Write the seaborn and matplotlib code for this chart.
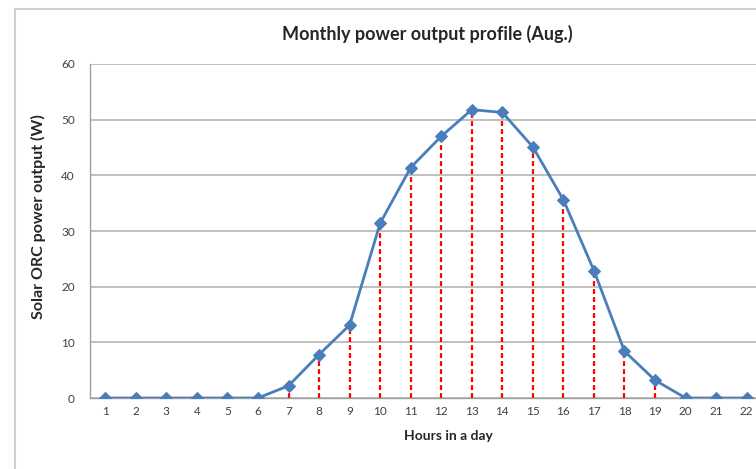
import numpy as np
import pandas as pd
import matplotlib
matplotlib.use("Agg")
import matplotlib.pyplot as plt
from matplotlib.lines import Line2D
import seaborn as sns

hours = list(range(1, 23))
power = [0, 0, 0, 0, 0, 0, 2.2, 7.8, 13.1, 31.4, 41.4, 47.0, 51.8, 51.3,
         45.1, 35.6, 22.9, 8.4, 3.2, 0, 0, 0]
y_ticks = [0, 10, 20, 30, 40, 50, 60]

df = pd.DataFrame({"hour": hours, "power": power})

sns.set_style("white")
plt.rcParams["font.family"] = ["Lato", "DejaVu Sans"]

fig = plt.figure(figsize=(7.56, 4.69), dpi=100)
ax = fig.add_axes([90 / 756, 71 / 469, 733 / 756, 334 / 469])

# red dashed drop lines (only where output > 0)
stems = df[df["power"] > 0]
ax.vlines(stems["hour"], 0, stems["power"], colors="#ff0000",
          linestyles=(0, (2.2, 1.4)), linewidth=1.6, zorder=2)

sns.lineplot(data=df, x="hour", y="power", ax=ax, color="#4a7ebb",
             linewidth=2, marker="D", markersize=6.5, markeredgecolor="#4a7ebb",
             zorder=3)

ax.set_xlim(0.5, 24.5)
ax.set_ylim(0, 60)
ax.set_yticks(y_ticks)
ax.set_xticks(hours)
ax.set_xticks(np.arange(0.5, 24.6, 1), minor=True)
ax.tick_params(axis="x", which="major", length=0, pad=6, labelsize=8.5, labelcolor="#404040")
ax.tick_params(axis="x", which="minor", length=4, color="#a0a0a0", direction="out")
ax.tick_params(axis="y", length=5, color="#a0a0a0", direction="out", pad=6,
               labelsize=8.5, labelcolor="#404040")
ax.yaxis.grid(True, color="#b4b4b4", linewidth=1.2)
ax.set_axisbelow(True)

for s in ["top", "right"]:
    ax.spines[s].set_visible(False)
for s in ["left", "bottom"]:
    ax.spines[s].set_color("#a0a0a0")
    ax.spines[s].set_linewidth(1)

ax.set_xlabel("Hours in a day", fontsize=10, fontweight="bold", color="#262626")
ax.xaxis.set_label_coords((448 - 90) / 733, -0.095)
ax.set_ylabel("Solar ORC power output (W)", fontsize=11.5, fontweight="bold",
              color="#262626")
ax.yaxis.set_label_coords(-(90 - 46) / 733, (398 - 217) / 334)
fig.text(0.565, 1 - 34 / 469, "Monthly power output profile (Aug.)", ha="center",
         va="center", fontsize=13, fontweight="bold", color="#262626")

# chart area border (cropped on right/bottom)
fig.add_artist(Line2D([15 / 756, 15 / 756], [0, 1 - 9 / 469], transform=fig.transFigure,
                      color="#d0d0d0", linewidth=1.5))
fig.add_artist(Line2D([15 / 756, 1], [1 - 9 / 469, 1 - 9 / 469], transform=fig.transFigure,
                      color="#d0d0d0", linewidth=1.5))

fig.savefig("out.png", dpi=100)
